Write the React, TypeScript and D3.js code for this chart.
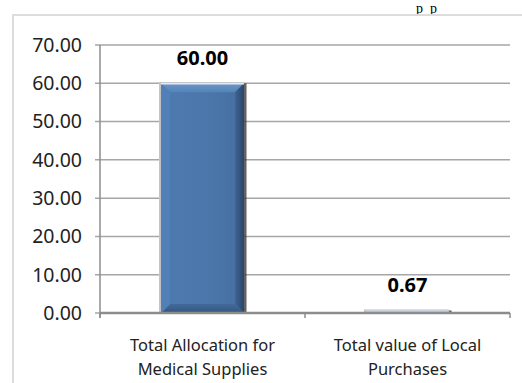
import React from "react";
import * as d3 from "d3";

const categories = [["Total Allocation for", "Medical Supplies"], ["Total value of Local", "Purchases"]];
const values = [60.0, 0.67];
const yTicks = [0, 10, 20, 30, 40, 50, 60, 70];

const W = 522;
const H = 383;
const FONT = "'Noto Sans', 'Open Sans', sans-serif";

export default function App() {
  const x = d3.scaleBand<number>().domain(d3.range(values.length)).range([100, 510]).padding(0);
  const y = d3.scaleLinear().domain([0, 70]).range([313, 45]);
  const barW = x.bandwidth() * 0.405;

  return (
    <svg width={W} height={H} style={{ position: "absolute", left: 0, top: 0 }}>
      <defs>
        <linearGradient id="barFill" x1="0" x2="1" y1="0" y2="0">
          <stop offset="0" stopColor="#4d7ab0" />
          <stop offset="0.6" stopColor="#4a76aa" />
          <stop offset="1" stopColor="#466fa1" />
        </linearGradient>
        <linearGradient id="bevTop" x1="0" x2="0" y1="0" y2="1">
          <stop offset="0" stopColor="#6a96ca" />
          <stop offset="1" stopColor="#5582b8" />
        </linearGradient>
        <linearGradient id="bevRight" x1="0" x2="1" y1="0" y2="0">
          <stop offset="0" stopColor="#3f6594" />
          <stop offset="1" stopColor="#2c4566" />
        </linearGradient>
        <linearGradient id="bevBottom" x1="0" x2="0" y1="0" y2="1">
          <stop offset="0" stopColor="#42699a" />
          <stop offset="1" stopColor="#35577f" />
        </linearGradient>
      </defs>
      <rect x={0} y={0} width={W} height={H} fill="#fff" />
      {/* document text above the chart */}
      <text x={416} y={12.5} fontFamily="'Liberation Serif', serif" fontSize={14} letterSpacing={7} fill="#000">pp</text>
      {/* chart frame */}
      <rect x={13} y={15} width={W} height={H} fill="#fff" stroke="#dcdcdc" strokeWidth={2} />

      {/* gridlines */}
      {yTicks.map((t) => (
        <line key={t} x1={95} x2={510} y1={y(t)} y2={y(t)} stroke="#a6a6a6" strokeWidth={1.5} />
      ))}

      {/* bars */}
      {values.map((v, i) => {
        const cx = (x(i) as number) + x.bandwidth() / 2;
        const x0 = cx - barW / 2;
        const y0 = y(v);
        const h = y(0) - y0;
        const b = Math.min(9, h / 2, barW / 2);
        return (
          <g key={i}>
            {h > 0.5 && (
              <>
                <rect x={x0 - 2} y={y0 - 1} width={barW + 2} height={h + 1} fill="#c4c4c4" />
                <rect x={x0 + barW} y={y0} width={2.5} height={h} fill="#3c3c3c" opacity={0.8} />
                <rect x={x0} y={y0} width={barW} height={h} fill="url(#barFill)" />
                <polygon points={`${x0},${y0} ${x0 + barW},${y0} ${x0 + barW - b},${y0 + b} ${x0 + b},${y0 + b}`} fill="url(#bevTop)" />
                <polygon points={`${x0 + barW},${y0} ${x0 + barW},${y0 + h} ${x0 + barW - b},${y0 + h - b} ${x0 + barW - b},${y0 + b}`} fill="url(#bevRight)" />
                <polygon points={`${x0},${y0 + h} ${x0 + barW},${y0 + h} ${x0 + barW - b},${y0 + h - b} ${x0 + b},${y0 + h - b}`} fill="url(#bevBottom)" />
                <polygon points={`${x0},${y0} ${x0 + b},${y0 + b} ${x0 + b},${y0 + h - b} ${x0},${y0 + h}`} fill="#5280b6" />
                <line x1={x0} x2={x0 + barW} y1={y0 + 0.5} y2={y0 + 0.5} stroke="#e4eaf2" strokeWidth={1.5} />
              </>
            )}
            <text x={cx} y={y0 - 25} dy="0.35em" textAnchor="middle" fontFamily={FONT} fontWeight="bold" fontSize={20} fill="#000">
              {v.toFixed(2)}
            </text>
          </g>
        );
      })}

      {/* axes */}
      <line x1={100} x2={100} y1={y(70)} y2={y(0) + 5} stroke="#8c8c8c" strokeWidth={1.5} />
      <line x1={100} x2={510} y1={y(0)} y2={y(0)} stroke="#8c8c8c" strokeWidth={2.5} />
      {[0, 1, 2].map((i) => {
        const xx = 100 + i * x.step();
        return <line key={i} x1={xx} x2={xx} y1={y(0)} y2={y(0) + 5} stroke="#8c8c8c" strokeWidth={1.5} />;
      })}

      {/* y tick labels */}
      {yTicks.map((t) => (
        <text key={t} x={82} y={y(t)} dy="0.35em" textAnchor="end" fontFamily={FONT} fontSize={19.5} fill="#222">
          {t.toFixed(2)}
        </text>
      ))}

      {/* category labels */}
      {categories.map((lines, i) => {
        const cx = (x(i) as number) + x.bandwidth() / 2;
        return (
          <text key={i} textAnchor="middle" fontFamily={FONT} fontSize={16.5} fill="#222">
            {lines.map((l, j) => (
              <tspan key={j} x={cx} y={345 + j * 24} dy="0.35em">{l}</tspan>
            ))}
          </text>
        );
      })}
    </svg>
  );
}
